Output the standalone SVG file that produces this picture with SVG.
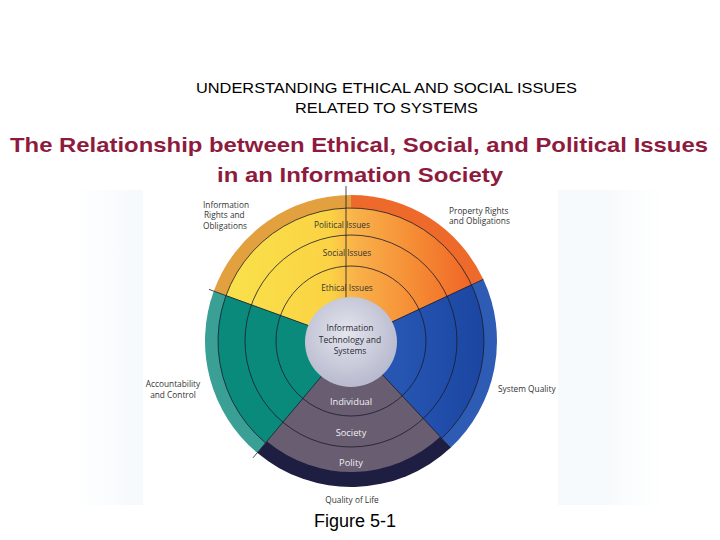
<svg xmlns="http://www.w3.org/2000/svg" width="720" height="540" viewBox="0 0 720 540">
<style>
.hdr{font-family:"Liberation Sans",Arial,sans-serif;font-size:14.5px;fill:#000;text-anchor:middle}
.ttl{font-family:"Liberation Sans",Arial,sans-serif;font-size:21px;font-weight:bold;fill:#8E1B3E;text-anchor:middle}
.lbl{font-family:"Open Sans","Noto Sans",sans-serif;font-size:8.3px;fill:#333}
.core{font-family:"Open Sans","Noto Sans",sans-serif;font-size:8.5px;fill:#2a2a33;text-anchor:middle}
.wl{font-family:"Open Sans","Noto Sans",sans-serif;font-size:9.3px;fill:#F2F0F4;text-anchor:middle}
.c{text-anchor:middle}
.ln{fill:none;stroke:#1b1b2b;stroke-width:0.8}
.fig{font-family:"Liberation Sans",Arial,sans-serif;font-size:18px;fill:#000;text-anchor:middle}
</style>
<defs>
<linearGradient id="gTop" x1="230" y1="0" x2="480" y2="0" gradientUnits="userSpaceOnUse">
<stop offset="0" stop-color="#F9E04A"/>
<stop offset="0.4" stop-color="#FBD344"/>
<stop offset="0.5" stop-color="#F9B24A"/>
<stop offset="0.75" stop-color="#F58A34"/>
<stop offset="1" stop-color="#EF5F24"/>
</linearGradient>
<linearGradient id="gBlue" x1="400" y1="0" x2="490" y2="0" gradientUnits="userSpaceOnUse">
<stop offset="0" stop-color="#2655B2"/>
<stop offset="1" stop-color="#1A45A0"/>
</linearGradient>
<radialGradient id="gCore" cx="0.45" cy="0.4" r="0.65">
<stop offset="0" stop-color="#E4E5EE"/>
<stop offset="1" stop-color="#B4B6CB"/>
</radialGradient>
<linearGradient id="gBg" x1="0" y1="0" x2="1" y2="0">
<stop offset="0" stop-color="#F3F7FA" stop-opacity="0"/>
<stop offset="0.1" stop-color="#F3F7FA"/>
<stop offset="0.9" stop-color="#F3F7FA"/>
<stop offset="1" stop-color="#F3F7FA" stop-opacity="0"/>
</linearGradient>
</defs>
<rect width="720" height="540" fill="#fff"/>
<rect x="72" y="190" width="592" height="315" fill="url(#gBg)" opacity="0.7"/>
<rect x="143" y="188" width="415" height="320" fill="#fff"/>

<text class="hdr" x="386.5" y="93" textLength="381" lengthAdjust="spacingAndGlyphs">UNDERSTANDING ETHICAL AND SOCIAL ISSUES</text>
<text class="hdr" x="386.5" y="113" textLength="183" lengthAdjust="spacingAndGlyphs">RELATED TO SYSTEMS</text>
<text class="ttl" x="359" y="152" textLength="698" lengthAdjust="spacingAndGlyphs">The Relationship between Ethical, Social, and Political Issues</text>
<text class="ttl" x="360" y="182" textLength="286" lengthAdjust="spacingAndGlyphs">in an Information Society</text>

<g id="wheel">
<g id="sector-top">
<path d="M351,341 L213.8,291.1 A146,146 0 0 1 351,195 Z" fill="#E2A03E"/>
<path d="M351,341 L351,195 A146,146 0 0 1 483.3,279.3 Z" fill="#EE6A2A"/>
<path d="M351,341 L226,295.5 A133,133 0 0 1 471.5,284.8 Z" fill="url(#gTop)"/>
</g>
<g id="sector-right">
<path d="M351,341 L483.3,279.3 A146,146 0 0 1 450.6,447.8 Z" fill="#2E5CB4"/>
<path d="M351,341 L471.5,284.8 A133,133 0 0 1 441.7,438.3 Z" fill="url(#gBlue)"/>
</g>
<g id="sector-bottom">
<path d="M351,341 L450.6,447.8 A146,146 0 0 1 257.2,452.8 Z" fill="#1E1E42"/>
<path d="M351,341 L440.3,436.8 A131,131 0 0 1 266.8,441.3 Z" fill="#685D71"/>
</g>
<g id="sector-left">
<path d="M351,341 L257.2,452.8 A146,146 0 0 1 213.8,291.1 Z" fill="#3A9F94"/>
<path d="M351,341 L265.5,442.9 A133,133 0 0 1 226,295.5 Z" fill="#0A8A7B"/>
</g>
</g>

<g id="connectors">
<circle class="ln" cx="351" cy="341" r="75"/>
<circle class="ln" cx="351" cy="341" r="106"/>
<path class="ln" d="M265.5,442.9 A133,133 0 1 1 441.7,438.3" stroke-width="0.6"/>
<line class="ln" x1="308.7" y1="325.6" x2="209" y2="289.4"/>
<line class="ln" x1="391.8" y1="322" x2="483.3" y2="279.3"/>
<line class="ln" x1="381.7" y1="373.9" x2="450.6" y2="447.8"/>
<line class="ln" x1="322.1" y1="375.5" x2="253" y2="457.8"/>
<line class="ln" x1="346" y1="298" x2="346" y2="186"/>
</g>

<g id="core">
<ellipse cx="351" cy="342" rx="46" ry="45" fill="url(#gCore)"/>
<text class="core" x="350" y="331">Information</text>
<text class="core" x="350" y="342.5">Technology and</text>
<text class="core" x="350" y="354">Systems</text>
</g>

<g id="ring-labels">
<text class="lbl c" x="342" y="228">Political Issues</text>
<text class="lbl c" x="347" y="256">Social Issues</text>
<text class="lbl c" x="347" y="291">Ethical Issues</text>
<text class="wl" x="351" y="405">Individual</text>
<text class="wl" x="351" y="436">Society</text>
<text class="wl" x="351" y="466">Polity</text>
</g>

<g id="outer-labels">
<text class="lbl" x="203" y="208">Information</text>
<text class="lbl" x="204" y="218">Rights and</text>
<text class="lbl" x="203" y="229">Obligations</text>
<text class="lbl" x="449" y="214">Property Rights</text>
<text class="lbl" x="449" y="224">and Obligations</text>
<text class="lbl c" x="173" y="387">Accountability</text>
<text class="lbl c" x="173" y="398">and Control</text>
<text class="lbl" x="498" y="392">System Quality</text>
<text class="lbl c" x="352" y="503">Quality of Life</text>
</g>

<text class="fig" x="355" y="527">Figure 5-1</text>
</svg>
